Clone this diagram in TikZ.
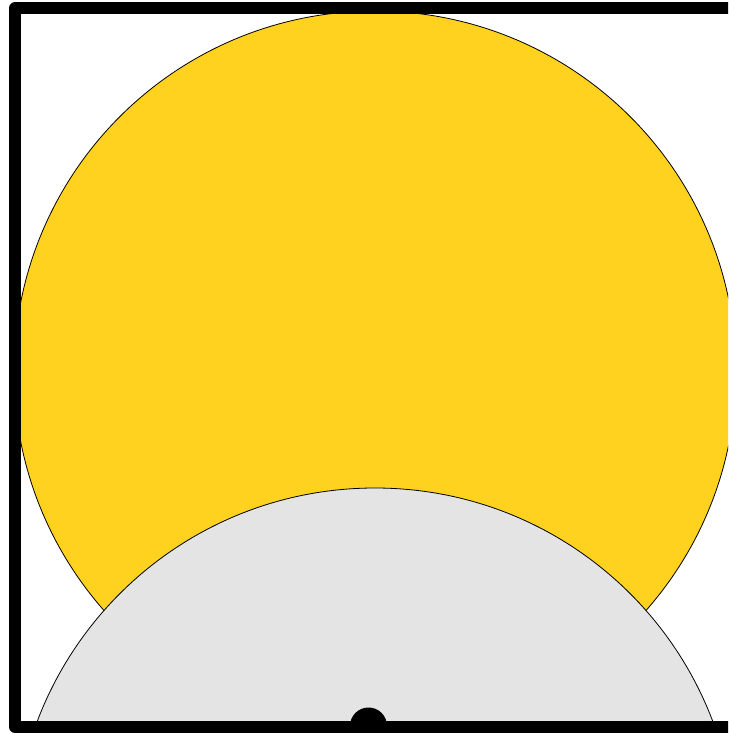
\documentclass[tikz,border=0pt]{standalone}
\definecolor{sunyellow}{HTML}{FFD21F}
\definecolor{domegray}{HTML}{E4E4E4}
\begin{document}
\begin{tikzpicture}[
  x=1pt, y=-1pt,
  sun/.style={fill=sunyellow, draw=black, line width=0.8pt},
  dome/.style={fill=domegray, draw=black, line width=0.8pt},
  frame/.style={draw=black, line width=12pt, line join=round},
  pivot/.style={fill=black}
]
\useasboundingbox (0,0) rectangle (728,733);
\clip (0,0) rectangle (728,733);
\coordinate (suncenter) at (375,372);
\coordinate (domecenter) at (375,849);
\coordinate (pivotpt) at (368.5,726);
\fill[white] (0,0) rectangle (728,733);
\path[sun] (suncenter) circle (361pt);
\path[dome] (domecenter) circle (361pt);
\draw[frame] (760,8.5) -- (15,8.5) -- (15,727) -- (760,727);
\path[pivot] (pivotpt) circle (18.5pt);
\end{tikzpicture}
\end{document}
